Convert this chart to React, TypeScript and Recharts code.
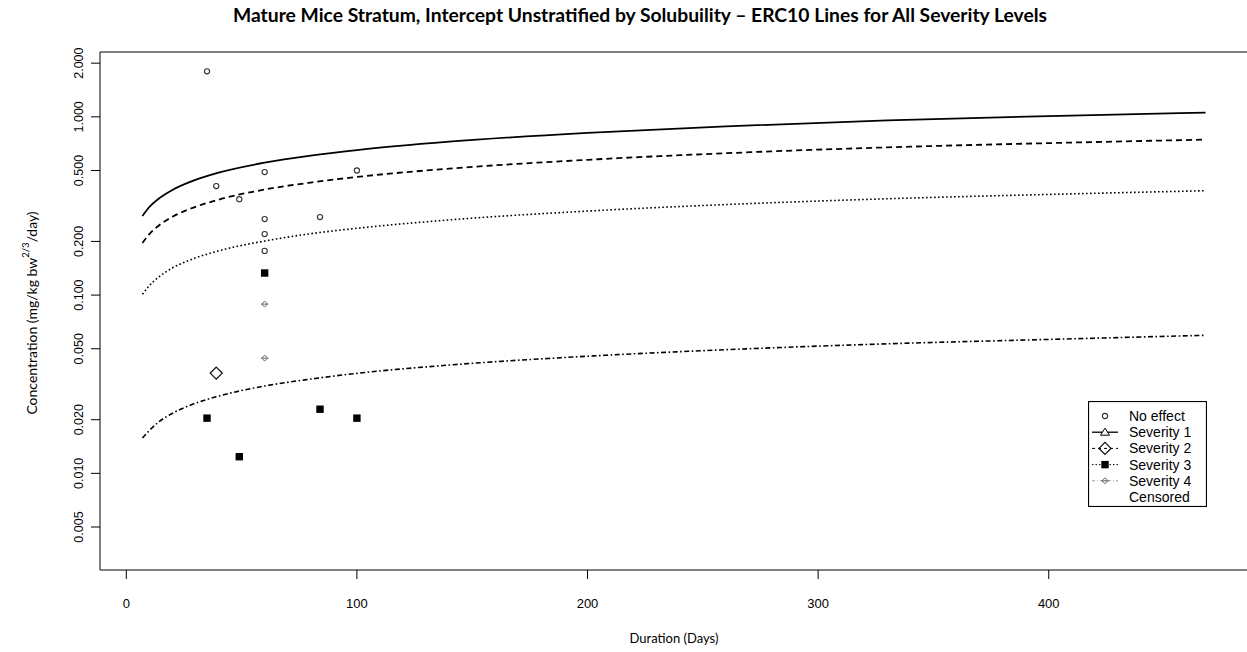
import {
  ComposedChart,
  Line,
  Scatter,
  XAxis,
  YAxis,
} from "recharts";

// ERC10 curves at a handful of durations
const durations = [7, 10, 14, 20, 28, 40, 60, 80, 100, 140, 200, 260, 330, 400, 468];
const severity1Line = [0.278, 0.312, 0.347, 0.389, 0.433, 0.486, 0.553, 0.606, 0.651, 0.725, 0.813, 0.884, 0.954, 1.01, 1.055];
const severity2Line = [0.196, 0.22, 0.245, 0.275, 0.306, 0.343, 0.391, 0.428, 0.46, 0.512, 0.574, 0.625, 0.674, 0.712, 0.745];
const severity3Line = [0.101, 0.113, 0.126, 0.142, 0.158, 0.177, 0.201, 0.221, 0.237, 0.264, 0.296, 0.322, 0.347, 0.367, 0.385];
const severity4Line = [0.0158, 0.0174, 0.0194, 0.0217, 0.0242, 0.0271, 0.0309, 0.0338, 0.0364, 0.0405, 0.0454, 0.0494, 0.0533, 0.0564, 0.0595];

// observed points
const noEffectDays = [35, 39, 49, 60, 60, 60, 60, 84, 100];
const noEffectConc = [1.8, 0.409, 0.345, 0.49, 0.267, 0.22, 0.177, 0.274, 0.5];
const severity2Days = [39];
const severity2Conc = [0.0365];
const severity3Days = [60, 35, 49, 84, 100];
const severity3Conc = [0.133, 0.0204, 0.0124, 0.0229, 0.0204];
const severity4Days = [60, 60];
const severity4Conc = [0.089, 0.0443];

const xTicks = [0, 100, 200, 300, 400];
const yTicks = [0.005, 0.01, 0.02, 0.05, 0.1, 0.2, 0.5, 1, 2];
const xDomain = [-11.4, 486.4];
const yDomain = [0.00287, 2.31];

const legendItems = ["No effect", "Severity 1", "Severity 2", "Severity 3", "Severity 4", "Censored"];

const lineRows = durations.map((t, i) => ({
  t,
  s1: severity1Line[i],
  s2: severity2Line[i],
  s3: severity3Line[i],
  s4: severity4Line[i],
}));

const toPoints = (days: number[], conc: number[]) =>
  days.map((t, i) => ({ t, v: conc[i] }));

const AXIS_FONT = "'Liberation Sans', Arial, sans-serif";
const LABEL_FONT = "Lato, 'Open Sans', sans-serif";

const OpenCircle = ({ cx, cy }: any) => (
  <circle cx={cx} cy={cy} r={2.6} fill="none" stroke="#333" strokeWidth={1.1} />
);

const OpenDiamond = ({ cx, cy }: any) => (
  <polygon
    points={`${cx},${cy - 6} ${cx + 6},${cy} ${cx},${cy + 6} ${cx - 6},${cy}`}
    fill="none"
    stroke="#111"
    strokeWidth={1.3}
  />
);

const FilledSquare = ({ cx, cy }: any) => (
  <rect x={cx - 3.7} y={cy - 3.7} width={7.4} height={7.4} fill="#000" />
);

const SmallStar = ({ cx, cy }: any) => (
  <g stroke="#666" strokeWidth={1} fill="none">
    <polygon points={`${cx},${cy - 3} ${cx + 3},${cy} ${cx},${cy + 3} ${cx - 3},${cy}`} />
    <line x1={cx - 3.5} y1={cy} x2={cx + 3.5} y2={cy} />
  </g>
);

const XTick = ({ x, y, payload }: any) => (
  <text
    x={x}
    y={y + 22}
    textAnchor="middle"
    dominantBaseline="central"
    fontFamily={AXIS_FONT}
    fontSize={13}
    fill="#000"
  >
    {payload.value}
  </text>
);

const YTick = ({ x, y, payload }: any) => (
  <text
    x={x - 10}
    y={y}
    textAnchor="middle"
    dominantBaseline="central"
    transform={`rotate(-90, ${x - 10}, ${y})`}
    fontFamily={AXIS_FONT}
    fontSize={12.5}
    fill="#000"
  >
    {Number(payload.value).toFixed(3)}
  </text>
);

const YTitle = ({ viewBox }: any) => {
  const cy = viewBox.y + viewBox.height / 2 + 2;
  const cx = 31;
  return (
    <text
      x={cx}
      y={cy}
      textAnchor="middle"
      dominantBaseline="central"
      transform={`rotate(-90, ${cx}, ${cy})`}
      fontFamily={LABEL_FONT}
      fontSize={14}
      fill="#000"
    >
      Concentration (mg/kg bw
      <tspan dy={-6} fontSize={9.5}>
        2/3
      </tspan>
      <tspan dy={6}>/day)</tspan>
    </text>
  );
};

const XTitle = ({ viewBox }: any) => (
  <text
    x={viewBox.x + viewBox.width / 2}
    y={638}
    textAnchor="middle"
    dominantBaseline="central"
    fontFamily={LABEL_FONT}
    fontSize={13}
    fill="#000"
  >
    Duration (Days)
  </text>
);

const LegendBox = () => {
  const rowH = 16.2;
  const symX = 17;
  return (
    <svg width={119} height={106} style={{ display: "block" }}>
      <rect x={0.5} y={0.5} width={118} height={105} fill="#fff" stroke="#000" strokeWidth={1.2} />
      {legendItems.map((name, i) => {
        const cy = 15 + i * rowH;
        return (
          <g key={name}>
            {i === 1 && (
              <g>
                <line x1={4} x2={30} y1={cy} y2={cy} stroke="#000" strokeWidth={1.3} />
                <polygon points={`${symX},${cy - 4} ${symX + 4.5},${cy + 3} ${symX - 4.5},${cy + 3}`} fill="#fff" stroke="#000" />
              </g>
            )}
            {i === 2 && (
              <g>
                <line x1={4} x2={30} y1={cy} y2={cy} stroke="#000" strokeDasharray="3 3" />
                <OpenDiamond cx={symX} cy={cy} />
              </g>
            )}
            {i === 3 && (
              <g>
                <line x1={4} x2={30} y1={cy} y2={cy} stroke="#000" strokeDasharray="1.5 2" />
                <FilledSquare cx={symX} cy={cy} />
              </g>
            )}
            {i === 4 && (
              <g>
                <line x1={4} x2={30} y1={cy} y2={cy} stroke="#999" strokeDasharray="3 2 1 2" />
                <SmallStar cx={symX} cy={cy} />
              </g>
            )}
            {i === 0 && <OpenCircle cx={symX} cy={cy} />}
            <text
              x={41}
              y={cy}
              dominantBaseline="central"
              fontFamily={AXIS_FONT}
              fontSize={14}
              fill="#000"
            >
              {name}
            </text>
          </g>
        );
      })}
    </svg>
  );
};

export default function App() {
  return (
    <div
      style={{
        position: "fixed",
        left: 0,
        top: 0,
        width: 1247,
        height: 652,
        overflow: "hidden",
        background: "#fff",
      }}
    >
      <div
        style={{
          position: "absolute",
          left: 0,
          width: 1247,
          top: 4,
          textAlign: "center",
          fontFamily: LABEL_FONT,
          fontWeight: 700,
          fontSize: 19.3,
          lineHeight: "22px",
          paddingLeft: 33,
          boxSizing: "border-box",
          whiteSpace: "nowrap",
        }}
      >
        Mature Mice Stratum, Intercept Unstratified by Solubuility – ERC10 Lines for All Severity Levels
      </div>
      <ComposedChart
        width={1260}
        height={652}
        data={lineRows}
        margin={{ top: 0, right: 12, bottom: 0, left: 0 }}
      >
        <XAxis
          dataKey="t"
          type="number"
          domain={xDomain}
          ticks={xTicks}
          allowDataOverflow
          height={82}
          stroke="#000"
          tickSize={9}
          tick={<XTick />}
          label={<XTitle />}
        />
        {/* top edge of the plot box */}
        <XAxis
          xAxisId="top"
          orientation="top"
          dataKey="t"
          type="number"
          domain={xDomain}
          allowDataOverflow
          height={52}
          stroke="#000"
          tick={false}
          tickLine={false}
        />
        <YAxis
          type="number"
          scale="log"
          domain={yDomain}
          ticks={yTicks}
          allowDataOverflow
          width={100}
          stroke="#000"
          tickSize={9}
          tick={<YTick />}
          label={<YTitle />}
        />
        <Line dataKey="s1" type="monotone" stroke="#000" strokeWidth={1.8} dot={false} isAnimationActive={false} />
        <Line dataKey="s2" type="monotone" stroke="#000" strokeWidth={1.8} strokeDasharray="6 4" dot={false} isAnimationActive={false} />
        <Line dataKey="s3" type="monotone" stroke="#000" strokeWidth={1.6} strokeDasharray="1.6 2.4" dot={false} isAnimationActive={false} />
        <Line dataKey="s4" type="monotone" stroke="#000" strokeWidth={1.6} strokeDasharray="5 2.5 1.6 2.5" dot={false} isAnimationActive={false} />
        <Scatter data={toPoints(noEffectDays, noEffectConc)} dataKey="v" shape={<OpenCircle />} isAnimationActive={false} />
        <Scatter data={toPoints(severity2Days, severity2Conc)} dataKey="v" shape={<OpenDiamond />} isAnimationActive={false} />
        <Scatter data={toPoints(severity3Days, severity3Conc)} dataKey="v" shape={<FilledSquare />} isAnimationActive={false} />
        <Scatter data={toPoints(severity4Days, severity4Conc)} dataKey="v" shape={<SmallStar />} isAnimationActive={false} />
      </ComposedChart>
      <div style={{ position: "absolute", left: 1088, top: 401 }}>
        <LegendBox />
      </div>
      {/* keep the open right side of the box clean */}
      <div
        style={{
          position: "absolute",
          left: 1240,
          top: 55,
          width: 7,
          height: 512,
          background: "#fff",
        }}
      />
    </div>
  );
}
